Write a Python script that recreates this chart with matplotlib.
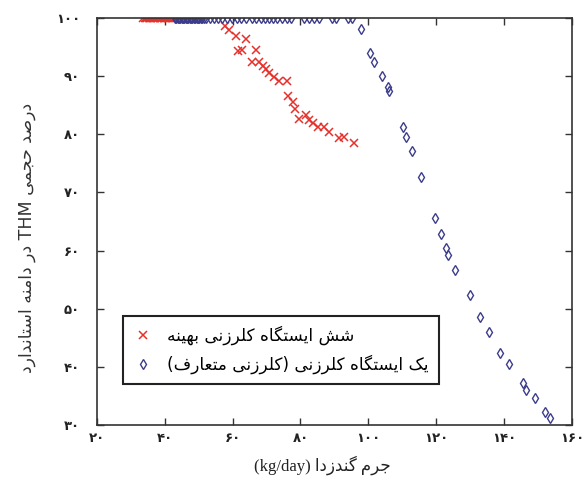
import matplotlib
matplotlib.use("Agg")
import matplotlib.pyplot as plt
from matplotlib.ticker import FuncFormatter

# --- data ---
# six optimised chlorination stations (red x)
red_x = [33.7, 34.1, 34.5, 34.9, 35.3, 35.7, 36.1, 36.5, 36.9, 37.3, 37.7, 38.1,
         38.5, 38.9, 39.3, 39.7, 40.1, 40.5, 40.9, 41.3, 41.7, 42.1, 42.5, 42.9,
         57.9, 59.0, 61.0, 63.9, 61.6, 62.9, 66.8, 65.7, 67.8, 69.0, 69.8, 70.7,
         72.2, 73.7, 76.1, 76.4, 77.8, 78.5, 79.7, 81.6, 82.4, 83.6, 85.2, 86.8,
         88.5, 91.4, 92.7, 95.8]
red_y = [100] * 24 + [
         98.6, 97.9, 97.0, 96.4, 94.3, 94.5, 94.5, 92.4, 92.5, 91.7, 91.2, 90.5,
         89.8, 89.2, 89.1, 86.6, 85.6, 84.3, 82.7, 83.4, 82.5, 82.0, 81.3, 81.2,
         80.4, 79.4, 79.6, 78.6]

# one conventional chlorination station (blue diamonds)
blue_x = [43.0, 43.4, 43.8, 44.2, 44.6, 45.0, 45.4, 45.8, 46.2, 46.6, 47.0, 47.4,
          47.8, 48.2, 48.6, 49.0, 49.4, 49.8, 50.2, 50.6, 51.0, 51.5,
          52.2, 53.5, 54.6, 55.8, 57.0, 58.5, 59.9, 61.4, 62.6, 63.9,
          65.8, 67.0, 68.3, 69.6, 70.7, 71.9, 73.2, 74.6, 76.1, 77.1,
          81.0, 82.4, 83.9, 85.4, 89.2, 90.6, 93.9, 95.3,
          97.9, 100.5, 101.7, 103.9, 105.9, 106.2, 110.1, 111.0, 112.9, 115.4,
          119.5, 121.3, 122.9, 123.4, 125.4, 129.8, 133.0, 135.4, 138.9, 141.5,
          145.4, 146.4, 149.1, 151.9, 153.5]
blue_y = [100] * 50 + [
          98.1, 94.0, 92.4, 90.1, 88.1, 87.5, 81.3, 79.6, 77.1, 72.7,
          65.6, 62.9, 60.4, 59.3, 56.7, 52.4, 48.5, 46.0, 42.4, 40.4,
          37.2, 36.0, 34.6, 32.3, 31.2]

x_ticks = [20, 40, 60, 80, 100, 120, 140, 160]
y_ticks = [30, 40, 50, 60, 70, 80, 90, 100]

label_red = "شش ایستگاه کلرزنی بهینه"
label_blue = "یک ایستگاه کلرزنی (کلرزنی متعارف)"
y_label_a = "درصد حجمی"
y_label_b = "در دامنه استاندارد"
x_label_fa = "جرم گندزدا"

# --- minimal Persian shaping (matplotlib has no complex text layout) ---
# letter: (isolated, final, initial, medial); None -> joins only to the right
FORMS = {
    "ا": ("\ufe8d", "\ufe8e", None, None),
    "ب": ("\ufe8f", "\ufe90", "\ufe91", "\ufe92"),
    "ت": ("\ufe95", "\ufe96", "\ufe97", "\ufe98"),
    "ج": ("\ufe9d", "\ufe9e", "\ufe9f", "\ufea0"),
    "ح": ("\ufea1", "\ufea2", "\ufea3", "\ufea4"),
    "د": ("\ufea9", "\ufeaa", None, None),
    "ر": ("\ufead", "\ufeae", None, None),
    "ز": ("\ufeaf", "\ufeb0", None, None),
    "س": ("\ufeb1", "\ufeb2", "\ufeb3", "\ufeb4"),
    "ش": ("\ufeb5", "\ufeb6", "\ufeb7", "\ufeb8"),
    "ص": ("\ufeb9", "\ufeba", "\ufebb", "\ufebc"),
    "ع": ("\ufec9", "\ufeca", "\ufecb", "\ufecc"),
    "ف": ("\ufed1", "\ufed2", "\ufed3", "\ufed4"),
    "ل": ("\ufedd", "\ufede", "\ufedf", "\ufee0"),
    "م": ("\ufee1", "\ufee2", "\ufee3", "\ufee4"),
    "ن": ("\ufee5", "\ufee6", "\ufee7", "\ufee8"),
    "ه": ("\ufee9", "\ufeea", "\ufeeb", "\ufeec"),
    "ک": ("\ufb8e", "\ufb8f", "\ufb90", "\ufb91"),
    "گ": ("\ufb92", "\ufb93", "\ufb94", "\ufb95"),
    "ی": ("\ufbfc", "\ufbfd", "\ufbfe", "\ufbff"),
}


def fa(text):
    out = []
    for i, ch in enumerate(text):
        if ch not in FORMS:
            out.append(ch)
            continue
        prev = text[i - 1] if i > 0 else ""
        nxt = text[i + 1] if i + 1 < len(text) else ""
        join_prev = prev in FORMS and FORMS[prev][2] is not None
        join_next = nxt in FORMS and FORMS[ch][2] is not None
        iso, fin, ini, med = FORMS[ch]
        if join_prev and join_next:
            out.append(med)
        elif join_prev:
            out.append(fin)
        elif join_next:
            out.append(ini)
        else:
            out.append(iso)
    vis = "".join(reversed(out))
    return vis.translate(str.maketrans("()", ")("))


def fa_digits(v, pos=None):
    return str(int(v)).translate(str.maketrans("0123456789", "۰۱۲۳۴۵۶۷۸۹"))


plt.rcParams["font.family"] = ["DejaVu Sans"]

fig = plt.figure(figsize=(5.88, 4.97), dpi=100)
ax = fig.add_axes([0.1645, 0.145, 0.8085, 0.8185])

ax.plot(red_x, red_y, linestyle="none", marker="x", markersize=5.3,
        markeredgewidth=1.1, color="#e5322d", label=fa(label_red))
ax.plot(blue_x, blue_y, linestyle="none", marker="d", markersize=5.5,
        markeredgewidth=1.0, markerfacecolor="none", markeredgecolor="#3c3c8c",
        label=fa(label_blue))

ax.set_xlim(20, 160)
ax.set_ylim(30, 100)
ax.set_xticks(x_ticks)
ax.set_yticks(y_ticks)
ax.xaxis.set_major_formatter(FuncFormatter(fa_digits))
ax.yaxis.set_major_formatter(FuncFormatter(fa_digits))
ax.tick_params(direction="in", top=True, right=True, length=5, width=1,
               color="#333333", labelsize=9.5, labelcolor="#222222")
ax.tick_params(axis="y", pad=12)
ax.tick_params(axis="x", pad=5)
for lab in ax.get_xticklabels() + ax.get_yticklabels():
    lab.set_fontweight("bold")
for sp in ax.spines.values():
    sp.set_color("#333333")
    sp.set_linewidth(1.2)

ax.set_ylabel(fa(y_label_b) + " THM " + fa(y_label_a), fontsize=12.5, color="#333333")
ax.yaxis.set_label_coords(-0.128, 0.46)
ax.set_xlabel("(kg/day) " + fa(x_label_fa), fontsize=12, color="#222222",
              family=["Liberation Serif", "DejaVu Sans"])
ax.xaxis.set_label_coords(0.475, -0.075)

leg = ax.legend(loc="lower left", bbox_to_anchor=(0.055, 0.10), borderaxespad=0,
                fancybox=False, edgecolor="#222222", fontsize=12.2,
                handletextpad=0.8, borderpad=0.6, labelspacing=0.55,
                handlelength=1.2, framealpha=1)
leg.get_frame().set_linewidth(1.5)

fig.savefig("out.png", dpi=100)
